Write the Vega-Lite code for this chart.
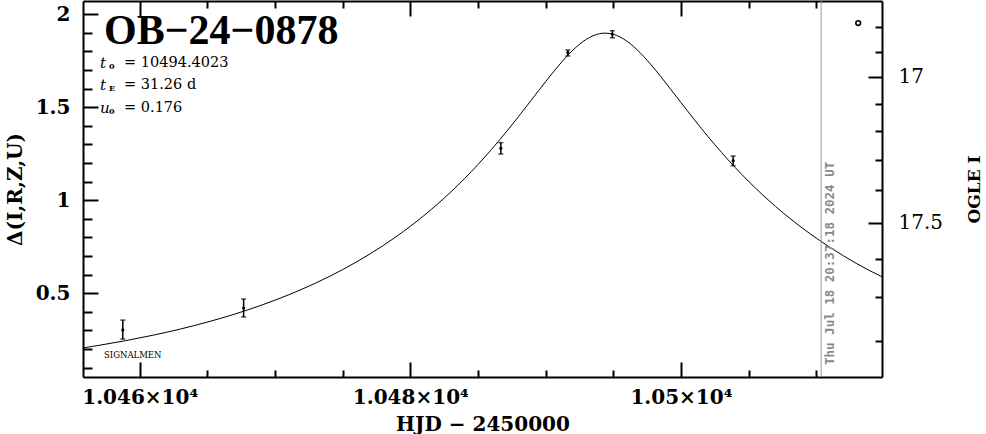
{
  "$schema": "https://vega.github.io/schema/vega-lite/v6.json",
  "width": 799,
  "height": 376,
  "autosize": "none",
  "padding": {"left": 83, "top": 1, "right": 104, "bottom": 57},
  "background": "white",
  "config": {
    "view": {"stroke": null},
    "axis": {
      "grid": false, "domainColor": "black", "domainWidth": 2, "tickColor": "black", "tickWidth": 2,
      "labelColor": "black", "titleColor": "black", "labelFont": "DejaVu Serif", "titleFont": "DejaVu Serif",
      "labelFontSize": 20, "labelFontWeight": "bold", "titleFontSize": 20, "titleFontWeight": "bold",
      "labelOverlap": false, "labelFlush": false, "labelBound": false
    }
  },
  "datasets": {
    "curve": [
      {"t": 10455.81, "d": 0.2064}, {"t": 10457, "d": 0.2203}, {"t": 10459, "d": 0.2459}, {"t": 10461, "d": 0.2749},
      {"t": 10463, "d": 0.3078}, {"t": 10465, "d": 0.3452}, {"t": 10467, "d": 0.3877}, {"t": 10469, "d": 0.4362},
      {"t": 10471, "d": 0.4916}, {"t": 10473, "d": 0.5548}, {"t": 10475, "d": 0.6274}, {"t": 10477, "d": 0.7108},
      {"t": 10479, "d": 0.8067}, {"t": 10481, "d": 0.9174}, {"t": 10482, "d": 0.979}, {"t": 10483, "d": 1.0451},
      {"t": 10484, "d": 1.1162}, {"t": 10485, "d": 1.1923}, {"t": 10486, "d": 1.2736}, {"t": 10487, "d": 1.3598},
      {"t": 10488, "d": 1.4505}, {"t": 10489, "d": 1.5441}, {"t": 10490, "d": 1.638}, {"t": 10491, "d": 1.7275},
      {"t": 10492, "d": 1.8062}, {"t": 10493, "d": 1.8653}, {"t": 10494, "d": 1.8959}, {"t": 10494.4, "d": 1.8987},
      {"t": 10495, "d": 1.8925}, {"t": 10496, "d": 1.8558}, {"t": 10497, "d": 1.7921}, {"t": 10498, "d": 1.7107},
      {"t": 10499, "d": 1.6198}, {"t": 10500, "d": 1.5256}, {"t": 10501, "d": 1.4325}, {"t": 10502, "d": 1.3426},
      {"t": 10503, "d": 1.2573}, {"t": 10504, "d": 1.177}, {"t": 10505, "d": 1.1019}, {"t": 10506, "d": 1.0318},
      {"t": 10508, "d": 0.9058}, {"t": 10510, "d": 0.7967}, {"t": 10512, "d": 0.702}, {"t": 10514, "d": 0.6199},
      {"t": 10514.86, "d": 0.589}
    ],
    "pts": [
      {"t": 10458.75, "d": 0.303, "lo": 0.254, "hi": 0.356},
      {"t": 10467.68, "d": 0.421, "lo": 0.373, "hi": 0.469},
      {"t": 10486.69, "d": 1.28, "lo": 1.249, "hi": 1.31},
      {"t": 10491.64, "d": 1.794, "lo": 1.776, "hi": 1.808},
      {"t": 10494.93, "d": 1.894, "lo": 1.874, "hi": 1.912},
      {"t": 10503.86, "d": 1.213, "lo": 1.186, "hi": 1.238}
    ],
    "now": [{"t": 10510.36, "d": 0.1145, "label": "Thu Jul 18 20:37:18 2024 UT"}],
    "ogle": [{"t": 10513.1, "d": 1.953}],
    "title": [{"t": 10457.36, "d": 1.91, "label": "OB−24−0878"}],
    "params": [
      {"t": 10457.07, "d": 1.738, "sym": "t", "sub": "0", "val": "=  10494.4023"},
      {"t": 10457.07, "d": 1.62, "sym": "t", "sub": "E", "val": "=  31.26  d"},
      {"t": 10457.07, "d": 1.496, "sym": "u", "sub": "0", "val": "=  0.176"}
    ],
    "sig": [{"t": 10457.36, "d": 0.168, "label": "SIGNALMEN"}]
  },
  "resolve": {"axis": {"x": "independent", "y": "independent"}},
  "layer": [
    {
      "data": {"name": "curve"},
      "mark": {"type": "line", "color": "black", "strokeWidth": 1, "interpolate": "monotone"},
      "encoding": {
        "x": {"field": "t", "type": "quantitative",
          "scale": {"domain": [10455.81, 10514.86], "nice": false, "zero": false},
          "axis": {"orient": "bottom", "values": [10460, 10465, 10470, 10475, 10480, 10485, 10490, 10495, 10500, 10505, 10510],
            "labelExpr": "datum.value % 20 == 0 ? format(datum.value/10000, '~g') + '×10⁴' : ''",
            "tickSize": {"condition": {"test": "datum.value % 20 == 0", "value": -15}, "value": -7},
            "labelPadding": 25, "title": "HJD  −  2450000", "titlePadding": -1}},
        "y": {"field": "d", "type": "quantitative",
          "scale": {"domain": [0.05, 2.0715], "nice": false, "zero": false},
          "axis": {"orient": "left", "values": [0.1, 0.2, 0.3, 0.4, 0.5, 0.6, 0.7, 0.8, 0.9, 1, 1.1, 1.2, 1.3, 1.4, 1.5, 1.6, 1.7, 1.8, 1.9, 2],
            "labelExpr": "abs(datum.value*2 - round(datum.value*2)) < 0.001 ? format(datum.value, '~g') : ''",
            "tickSize": {"condition": {"test": "abs(datum.value*2 - round(datum.value*2)) < 0.001", "value": -15}, "value": -9},
            "labelPadding": 28, "title": "Δ(I,R,Z,U)", "titlePadding": 10}}
      }
    },
    {
      "data": {"name": "pts"},
      "mark": {"type": "rule", "color": "black", "strokeWidth": 1.5},
      "encoding": {
        "x": {"field": "t", "type": "quantitative",
          "scale": {"domain": [10455.81, 10514.86], "nice": false, "zero": false},
          "axis": {"orient": "top", "values": [10460, 10465, 10470, 10475, 10480, 10485, 10490, 10495, 10500, 10505, 10510],
            "labels": false,
            "tickSize": {"condition": {"test": "datum.value % 20 == 0", "value": -15}, "value": -7},
            "title": null}},
        "y": {"field": "lo", "type": "quantitative",
          "scale": {"domain": [0.05, 2.0715], "nice": false, "zero": false},
          "axis": {"orient": "right", "values": [1.933, 1.799, 1.665, 1.518, 1.374, 1.217, 1.055, 0.878, 0.684, 0.482, 0.243],
            "labelExpr": "datum.value == 1.665 ? '17' : datum.value == 0.878 ? '17.5' : ''",
            "tickSize": {"condition": {"test": "datum.value == 1.665 || datum.value == 0.878", "value": -14}, "value": -7},
            "labelPadding": 30, "labelFontWeight": "normal",
            "title": "OGLE I", "titleAngle": 270, "titleBaseline": "top", "titleFontSize": 17, "titlePadding": 24}},
        "y2": {"field": "hi"}
      }
    },
    {
      "data": {"name": "pts"},
      "mark": {"type": "tick", "orient": "horizontal", "color": "black", "size": 5, "thickness": 1.5},
      "encoding": {
        "x": {"field": "t", "type": "quantitative", "scale": {"domain": [10455.81, 10514.86], "nice": false, "zero": false}, "axis": null},
        "y": {"field": "lo", "type": "quantitative", "scale": {"domain": [0.05, 2.0715], "nice": false, "zero": false}, "axis": null}
      }
    },
    {
      "data": {"name": "pts"},
      "mark": {"type": "tick", "orient": "horizontal", "color": "black", "size": 5, "thickness": 1.5},
      "encoding": {
        "x": {"field": "t", "type": "quantitative", "scale": {"domain": [10455.81, 10514.86], "nice": false, "zero": false}, "axis": null},
        "y": {"field": "hi", "type": "quantitative", "scale": {"domain": [0.05, 2.0715], "nice": false, "zero": false}, "axis": null}
      }
    },
    {
      "data": {"name": "pts"},
      "mark": {"type": "point", "filled": true, "color": "black", "size": 10, "opacity": 1},
      "encoding": {
        "x": {"field": "t", "type": "quantitative", "scale": {"domain": [10455.81, 10514.86], "nice": false, "zero": false}, "axis": null},
        "y": {"field": "d", "type": "quantitative", "scale": {"domain": [0.05, 2.0715], "nice": false, "zero": false}, "axis": null}
      }
    },
    {
      "data": {"name": "now"},
      "mark": {"type": "rule", "color": "#999999", "strokeWidth": 1},
      "encoding": {
        "x": {"field": "t", "type": "quantitative", "scale": {"domain": [10455.81, 10514.86], "nice": false, "zero": false}, "axis": null}
      }
    },
    {
      "data": {"name": "now"},
      "mark": {"type": "text", "angle": 270, "align": "left", "baseline": "middle", "dy": 9, "font": "DejaVu Sans Mono", "fontWeight": "bold", "fontSize": 12.5, "color": "#8a8a8a"},
      "encoding": {
        "x": {"field": "t", "type": "quantitative", "scale": {"domain": [10455.81, 10514.86], "nice": false, "zero": false}, "axis": null},
        "y": {"field": "d", "type": "quantitative", "scale": {"domain": [0.05, 2.0715], "nice": false, "zero": false}, "axis": null},
        "text": {"field": "label"}
      }
    },
    {
      "data": {"name": "ogle"},
      "mark": {"type": "point", "shape": "circle", "filled": false, "color": "black", "strokeWidth": 1.6, "size": 22, "opacity": 1},
      "encoding": {
        "x": {"field": "t", "type": "quantitative", "scale": {"domain": [10455.81, 10514.86], "nice": false, "zero": false}, "axis": null},
        "y": {"field": "d", "type": "quantitative", "scale": {"domain": [0.05, 2.0715], "nice": false, "zero": false}, "axis": null}
      }
    },
    {
      "data": {"name": "title"},
      "mark": {"type": "text", "align": "left", "baseline": "middle", "font": "Liberation Serif", "fontWeight": "bold", "fontSize": 42, "color": "black"},
      "encoding": {
        "x": {"field": "t", "type": "quantitative", "scale": {"domain": [10455.81, 10514.86], "nice": false, "zero": false}, "axis": null},
        "y": {"field": "d", "type": "quantitative", "scale": {"domain": [0.05, 2.0715], "nice": false, "zero": false}, "axis": null},
        "text": {"field": "label"}
      }
    },
    {
      "data": {"name": "params"},
      "mark": {"type": "text", "align": "left", "baseline": "middle", "font": "DejaVu Serif", "fontStyle": "italic", "fontSize": 15, "color": "black"},
      "encoding": {
        "x": {"field": "t", "type": "quantitative", "scale": {"domain": [10455.81, 10514.86], "nice": false, "zero": false}, "axis": null},
        "y": {"field": "d", "type": "quantitative", "scale": {"domain": [0.05, 2.0715], "nice": false, "zero": false}, "axis": null},
        "text": {"field": "sym"}
      }
    },
    {
      "data": {"name": "params"},
      "mark": {"type": "text", "align": "left", "baseline": "middle", "dx": 9, "dy": 4, "font": "DejaVu Serif", "fontWeight": "bold", "fontSize": 8, "color": "black"},
      "encoding": {
        "x": {"field": "t", "type": "quantitative", "scale": {"domain": [10455.81, 10514.86], "nice": false, "zero": false}, "axis": null},
        "y": {"field": "d", "type": "quantitative", "scale": {"domain": [0.05, 2.0715], "nice": false, "zero": false}, "axis": null},
        "text": {"field": "sub"}
      }
    },
    {
      "data": {"name": "params"},
      "mark": {"type": "text", "align": "left", "baseline": "middle", "dx": 24, "font": "DejaVu Serif", "fontSize": 14.5, "color": "black"},
      "encoding": {
        "x": {"field": "t", "type": "quantitative", "scale": {"domain": [10455.81, 10514.86], "nice": false, "zero": false}, "axis": null},
        "y": {"field": "d", "type": "quantitative", "scale": {"domain": [0.05, 2.0715], "nice": false, "zero": false}, "axis": null},
        "text": {"field": "val"}
      }
    },
    {
      "data": {"name": "sig"},
      "mark": {"type": "text", "align": "left", "baseline": "middle", "font": "DejaVu Serif", "fontSize": 8.5, "color": "black"},
      "encoding": {
        "x": {"field": "t", "type": "quantitative", "scale": {"domain": [10455.81, 10514.86], "nice": false, "zero": false}, "axis": null},
        "y": {"field": "d", "type": "quantitative", "scale": {"domain": [0.05, 2.0715], "nice": false, "zero": false}, "axis": null},
        "text": {"field": "label"}
      }
    }
  ]
}
